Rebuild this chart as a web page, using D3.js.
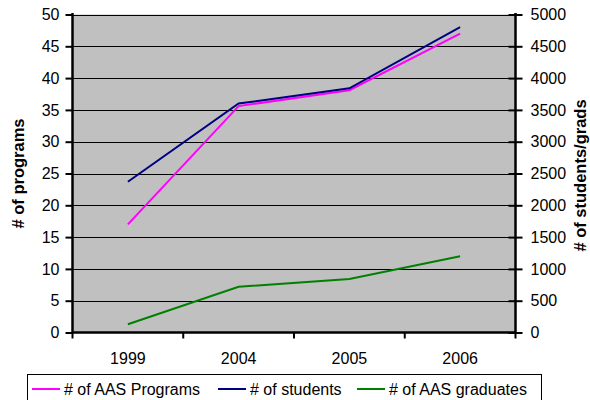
<!DOCTYPE html>
<html>
<head>
<meta charset="utf-8">
<script src="https://cdn.jsdelivr.net/npm/d3@7"></script>
<style>
  html, body { margin: 0; padding: 0; background: #fff; }
  svg { display: block; font-family: "Liberation Sans", Arial, sans-serif; }
</style>
</head>
<body>
<svg id="chart" width="590" height="400"></svg>
<script>
// Categories and series
const years = ["1999", "2004", "2005", "2006"];
const programs = [17, 35.6, 38.1, 47];
const students = [2370, 3600, 3840, 4800];
const graduates = [130, 720, 840, 1200];
const leftTicks = [0, 5, 10, 15, 20, 25, 30, 35, 40, 45, 50];
const rightTicks = [0, 500, 1000, 1500, 2000, 2500, 3000, 3500, 4000, 4500, 5000];
const seriesNames = ["# of AAS Programs", "# of students", "# of AAS graduates"];
const seriesColors = ["#FF00FF", "#000080", "#008000"];

const svg = d3.select("#chart");
const plot = { left: 72.5, right: 515.5, top: 14.5, bottom: 332.5 };

const x = d3.scaleBand().domain(years).range([plot.left, plot.right]);
const yL = d3.scaleLinear().domain([0, 50]).range([plot.bottom, plot.top]);
const yR = d3.scaleLinear().domain([0, 5000]).range([plot.bottom, plot.top]);

// Plot background
svg.append("rect")
  .attr("x", plot.left).attr("y", plot.top)
  .attr("width", plot.right - plot.left).attr("height", plot.bottom - plot.top)
  .attr("fill", "#C0C0C0");

// Horizontal gridlines
svg.append("g").selectAll("line").data(leftTicks.slice(1)).join("line")
  .attr("x1", plot.left).attr("x2", plot.right)
  .attr("y1", d => Math.round(yL(d)) + 0.5).attr("y2", d => Math.round(yL(d)) + 0.5)
  .attr("stroke", "#000").attr("stroke-width", 1);

const fontSize = 16;

// Left axis
const gL = svg.append("g").attr("transform", `translate(${plot.left},0)`)
  .call(d3.axisLeft(yL).tickValues(leftTicks).tickSize(7).tickPadding(6));
// Right axis (ticks cross the axis line)
const gR = svg.append("g").attr("transform", `translate(${plot.right},0)`)
  .call(d3.axisRight(yR).tickValues(rightTicks).tickFormat(d3.format("d")).tickSize(7).tickPadding(8));
gR.selectAll(".tick line").attr("x1", -7);
// Bottom axis with ticks between categories
const gB = svg.append("g").attr("transform", `translate(0,${plot.bottom})`)
  .call(d3.axisBottom(x).tickSize(0).tickPadding(20));
gB.append("g").selectAll("line")
  .data(d3.range(years.length + 1))
  .join("line")
  .attr("x1", i => plot.left + i * x.step()).attr("x2", i => plot.left + i * x.step())
  .attr("y1", 0).attr("y2", 6)
  .attr("stroke", "#000").attr("stroke-width", 2);

[gL, gR, gB].forEach(g => {
  g.select(".domain").attr("stroke", "#000").attr("stroke-width", 2.5);
  g.selectAll(".tick line").attr("stroke", "#000").attr("stroke-width", 2);
  g.selectAll(".tick text").attr("fill", "#000")
    .style("font-size", fontSize + "px")
    .style("font-family", "'Liberation Sans', Arial, sans-serif");
});
gL.select(".domain").attr("d", `M0,${plot.top - 1.5}V${plot.bottom + 1}`);
gR.select(".domain").attr("d", `M0,${plot.top - 1.5}V${plot.bottom + 1}`);
gB.select(".domain").attr("d", `M${plot.left},0H${plot.right}`);

// Series lines
const seriesData = [
  programs.map((v, i) => [x(years[i]) + x.bandwidth() / 2, yL(v)]),
  students.map((v, i) => [x(years[i]) + x.bandwidth() / 2, yR(v)]),
  graduates.map((v, i) => [x(years[i]) + x.bandwidth() / 2, yR(v)])
];
const line = d3.line();
[2, 0, 1].forEach(k => {
  svg.append("path").attr("d", line(seriesData[k]))
    .attr("fill", "none").attr("stroke", seriesColors[k]).attr("stroke-width", 2);
});

// Axis titles
svg.append("text")
  .attr("transform", `translate(24,${(plot.top + plot.bottom) / 2}) rotate(-90)`)
  .attr("text-anchor", "middle").style("font-size", "16.5px").style("font-weight", "bold")
  .text("# of programs");
svg.append("text")
  .attr("transform", `translate(586,${(plot.top + plot.bottom) / 2 + 2}) rotate(-90)`)
  .attr("text-anchor", "middle").style("font-size", "16.5px").style("font-weight", "bold")
  .text("# of students/grads");

// Legend
const legend = svg.append("g");
legend.append("rect")
  .attr("x", 27.5).attr("y", 374.5).attr("width", 514).attr("height", 40)
  .attr("fill", "#fff").attr("stroke", "#000").attr("stroke-width", 1);
const legendX = [32, 218, 357];
seriesNames.forEach((name, k) => {
  legend.append("line")
    .attr("x1", legendX[k]).attr("x2", legendX[k] + 28)
    .attr("y1", 389).attr("y2", 389)
    .attr("stroke", seriesColors[k]).attr("stroke-width", 2);
  legend.append("text")
    .attr("x", legendX[k] + 32).attr("y", 395)
    .style("font-size", fontSize + "px")
    .text(name);
});
</script>
</body>
</html>
